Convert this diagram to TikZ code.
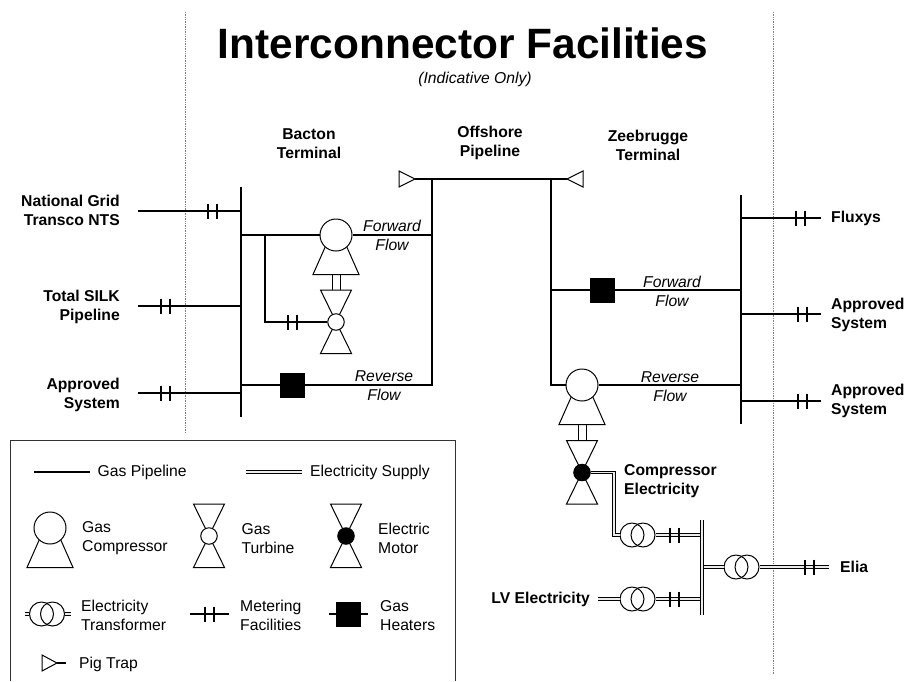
\documentclass[tikz,border=0pt]{standalone}
\usepackage{fontspec}
\setmainfont{Liberation Sans}
\tikzset{
  gas/.style={line width=2.3pt,line cap=butt},
  elec/.style={preaction={draw,black,line width=3.4pt,line cap=butt},draw=gray!15,line width=1.3pt,line cap=butt},
  sym/.style={line width=1pt,line join=miter},
  tick/.style={line width=2.3pt},
  bigc/.style={circle,draw,line width=1pt,fill=white,minimum size=32pt,inner sep=0pt},
  smallc/.style={circle,draw,line width=1pt,fill=white,minimum size=16.5pt,inner sep=0pt},
  blackc/.style={circle,draw,line width=1pt,fill=black,minimum size=16.5pt,inner sep=0pt},
  trc/.style={circle,draw,line width=1pt,minimum size=24pt,inner sep=0pt},
  heat/.style={rectangle,fill=black,minimum size=25pt,inner sep=0pt},
  lbl/.style={font=\fontsize{15.7}{19}\selectfont,inner sep=0pt,align=center},
  lblb/.style={font=\fontsize{15.7}{19}\selectfont\bfseries,inner sep=0pt,align=center},
  lbli/.style={font=\fontsize{15.7}{19}\selectfont\itshape,inner sep=0pt,align=center},
  guide/.style={line width=.7pt,densely dotted,gray},
}
\newcommand{\compressor}[3]{%
  \draw[sym] (#2-23,#3+39.5) -- (#2,#3-12.5) -- (#2+23,#3+39.5) -- cycle;
  \node[bigc] (#1) at (#2,#3) {};}
\newcommand{\hourglass}[4]{% style,name,x,y
  \draw[sym] (#3-15.5,#4-32) -- (#3+15.5,#4-32) -- (#3-15.5,#4+31.5) -- (#3+15.5,#4+31.5) -- cycle;
  \node[#1] (#2) at (#3,#4) {};}
\newcommand{\meter}[2]{%
  \draw[tick] (#1-4.5,#2-7.5) -- (#1-4.5,#2+7.5) (#1+4.5,#2-7.5) -- (#1+4.5,#2+7.5);}
\newcommand{\transformer}[3]{%
  \node[trc] (#1a) at (#2-5.5,#3) {};
  \node[trc] (#1b) at (#2+5.5,#3) {};}
\newcommand{\shaft}[3]{%
  \draw[sym] (#1-4,#2) -- (#1-4,#3) (#1+4,#2) -- (#1+4,#3);}
\begin{document}
\begin{tikzpicture}[x=1pt,y=-1pt]
\useasboundingbox[fill=white] (0,0) rectangle (905,681);
% guides
\coordinate (g1t) at (185,12); \coordinate (g1b) at (185,432);
\coordinate (g2t) at (773,12); \coordinate (g2b) at (773,675);
\draw[guide] (g1t) -- (g1b);
\draw[guide] (g2t) -- (g2b);
% titles
\node[font=\fontsize{42.4}{46}\selectfont\bfseries,inner sep=0pt] (title) at (463,43) {Interconnector Facilities};
\node[lbli] (subtitle) at (475,79.5) {(Indicative Only)};
\node[lblb] (tbacton) at (309,144) {Bacton\\Terminal};
\node[lblb] (toff) at (490,143) {Offshore\\Pipeline};
\node[lblb] (tzee) at (648,145) {Zeebrugge\\Terminal};
% Bacton coordinates
\coordinate (bt) at (241,187); \coordinate (bb) at (241,417);
\coordinate (ngl) at (138,211); \coordinate (ngr) at (241,211);
\coordinate (sll) at (138,306); \coordinate (slr) at (241,306);
\coordinate (asl) at (138,393); \coordinate (asr) at (241,393);
\coordinate (bf) at (241,235); \coordinate (bfb) at (265,235); \coordinate (bfe) at (432,235);
\coordinate (bbc) at (265,322);
\coordinate (brl) at (241,385); \coordinate (brr) at (432,385);
\coordinate (pl) at (432,179); \coordinate (pr) at (551,179);
\coordinate (zrb) at (551,385);
\coordinate (zft) at (551,290); \coordinate (zfr) at (741,290);
\coordinate (zrr) at (741,385);
\coordinate (zt) at (741,195); \coordinate (zb) at (741,424);
\coordinate (fxl) at (741,218); \coordinate (fxr) at (821,218);
\coordinate (a1l) at (741,314); \coordinate (a1r) at (821,314);
\coordinate (a2l) at (741,401); \coordinate (a2r) at (821,401);
% bacton symbols
\compressor{cf}{336}{235}
\shaft{336}{274}{290}
\hourglass{smallc}{tb}{336}{322}
\node[heat] (hb) at (292.5,385) {};
% pig traps
\draw[sym] (399,171) -- (415,179) -- (399,187) -- cycle;
\coordinate (ptl) at (415,179);
\draw[sym] (583,171) -- (567,179) -- (583,187) -- cycle;
\coordinate (ptr) at (567,179);
% zeebrugge symbols
\node[heat] (hz) at (602.5,290) {};
\compressor{cr}{582}{385}
\shaft{582}{425}{441}
\hourglass{blackc}{mz}{582}{472.5}
% gas lines
\draw[gas] (bt) -- (bb);
\draw[gas] (ngl) -- (ngr); \meter{212.5}{211}
\draw[gas] (sll) -- (slr); \meter{165.5}{306}
\draw[gas] (asl) -- (asr); \meter{165.5}{393}
\draw[gas] (bf) -- (cf);
\draw[gas] (cf) -- (bfe);
\draw[gas] (bfb) -- (bbc) -- (tb); \meter{292.5}{322}
\draw[gas] (brl) -- (hb);
\draw[gas] (hb) -- (brr) -- (pl);
\draw[gas] (ptl) -- (ptr);
\draw[gas] (pr) -- (zrb) -- (cr);
\draw[gas] (cr) -- (zrr);
\draw[gas] (zft) -- (hz);
\draw[gas] (hz) -- (zfr);
\draw[gas] (zt) -- (zb);
\draw[gas] (fxl) -- (fxr); \meter{800.5}{218}
\draw[gas] (a1l) -- (a1r); \meter{802.5}{314}
\draw[gas] (a2l) -- (a2r); \meter{802.5}{401}
% electricity
\transformer{t1}{637.5}{535}
\transformer{t2}{637.5}{599}
\transformer{t3}{741.5}{567}
\coordinate (el1) at (614,472.5); \coordinate (el2) at (614,535);
\coordinate (ebt) at (702,520); \coordinate (ebb) at (702,615);
\coordinate (eb1) at (702,535); \coordinate (eb2) at (702,599); \coordinate (eb3) at (702,567);
\coordinate (lvl) at (598,599); \coordinate (elr) at (829,567);
\draw[elec] (mz) -- (el1) -- (el2) -- (t1a);
\draw[elec] (t1b) -- (eb1);
\draw[elec] (lvl) -- (t2a);
\draw[elec] (t2b) -- (eb2);
\draw[elec] (eb3) -- (t3a);
\draw[elec] (t3b) -- (elr);
\draw[elec] (ebt) -- (ebb);
\meter{674.5}{535} \meter{674.5}{599} \meter{809.5}{567}
% labels
\node[lblb,align=right,anchor=east] (lng) at (120,210.5) {National Grid\\Transco NTS};
\node[lblb,align=right,anchor=east] (lsl) at (120,306.5) {Total SILK\\Pipeline};
\node[lblb,align=right,anchor=east] (las) at (120,394.5) {Approved\\System};
\node[lblb,anchor=west] (lfx) at (831,218) {Fluxys};
\node[lblb,align=left,anchor=west] (la1) at (831,314.5) {Approved\\System};
\node[lblb,align=left,anchor=west] (la2) at (831,401) {Approved\\System};
\node[lblb,anchor=west] (lel) at (840,567) {Elia};
\node[lblb,anchor=east] (llv) at (590,599) {LV Electricity};
\node[lblb,align=left,anchor=west] (lce) at (624,481) {Compressor\\Electricity};
\node[lbli] (ff1) at (392,235.5) {Forward\\Flow};
\node[lbli] (rf1) at (384,385.5) {Reverse\\Flow};
\node[lbli] (ff2) at (672,291.5) {Forward\\Flow};
\node[lbli] (rf2) at (670,386.5) {Reverse\\Flow};
% legend
\coordinate (lg1) at (10,681); \coordinate (lg2) at (10,440.5); \coordinate (lg3) at (455.5,440.5); \coordinate (lg4) at (455.5,681);
\draw[line width=.8pt,black!80] (lg1) -- (lg2) -- (lg3) -- (lg4);
\coordinate (k1a) at (34,472); \coordinate (k1b) at (90,472);
\draw[gas] (k1a) -- (k1b);
\node[lbl,anchor=west] (k1t) at (97.5,472.5) {Gas Pipeline};
\coordinate (k2a) at (246,472); \coordinate (k2b) at (301.5,472);
\draw[elec] (k2a) -- (k2b);
\node[lbl,anchor=west] (k2t) at (310,472.5) {Electricity Supply};
\compressor{kc}{50}{528}
\node[lbl,align=left,anchor=west] (kct) at (82,538.5) {Gas\\Compressor};
\hourglass{smallc}{kt}{209}{536}
\node[lbl,align=left,anchor=west] (ktt) at (241.5,538.5) {Gas\\Turbine};
\hourglass{blackc}{km}{346}{536}
\node[lbl,align=left,anchor=west] (kmt) at (378,538.5) {Electric\\Motor};
\transformer{kx}{47}{614}
\coordinate (kxl) at (25,614); \coordinate (kxr) at (71,614);
\draw[elec] (kxl) -- (kxa);
\draw[elec] (kxb) -- (kxr);
\node[lbl,align=left,anchor=west] (kxt) at (81,615.5) {Electricity\\Transformer};
\coordinate (kma) at (190,614); \coordinate (kmb) at (229,614);
\draw[gas] (kma) -- (kmb); \meter{209.5}{614}
\node[lbl,align=left,anchor=west] (kmtt) at (240,615.5) {Metering\\Facilities};
\node[heat] (kh) at (348.5,614) {};
\coordinate (kha) at (329,614); \coordinate (khb) at (368,614);
\draw[gas] (kha) -- (kh) -- (khb);
\node[lbl,align=left,anchor=west] (kht) at (380,615.5) {Gas\\Heaters};
\draw[sym] (42,655) -- (57,663) -- (42,671) -- cycle;
\coordinate (kpa) at (57,663); \coordinate (kpb) at (66,663);
\draw[gas] (kpa) -- (kpb);
\node[lbl,anchor=west] (kpt) at (79,664) {Pig Trap};
\end{tikzpicture}
\end{document}
